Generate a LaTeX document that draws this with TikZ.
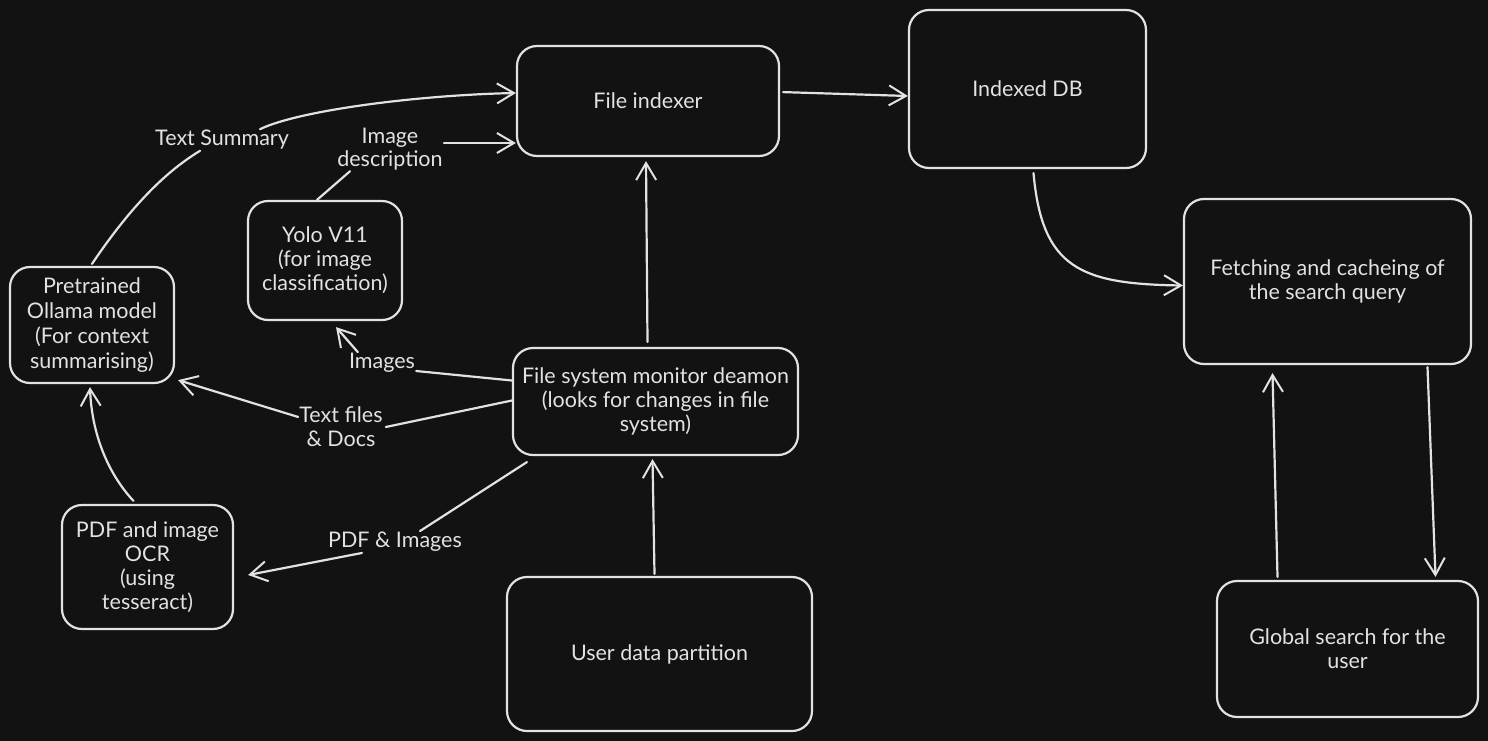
\documentclass[tikz,border=0pt]{standalone}
\usepackage{fontspec}
\setmainfont{Lato}
\usetikzlibrary{arrows.meta}
\definecolor{bg}{HTML}{121212}
\definecolor{fg}{HTML}{E2E2E2}
\begin{document}
\begin{tikzpicture}[x=1pt,y=-1pt,
  every node/.style={font=\fontsize{21.5}{24}\selectfont, text=fg},
  box/.style={draw=fg, line width=2.2pt, rounded corners=20pt, align=center, inner sep=3pt},
  lbl/.style={align=center, inner sep=1pt},
  conn/.style={draw=fg, line width=2.2pt, line cap=round},
  arr/.style={conn, -{Straight Barb[length=17pt,width=20pt,line width=2pt]}}
]
\fill[bg] (0,0) rectangle (1488,741);
\useasboundingbox (0,0) rectangle (1488,741);

% boxes
\node[box, minimum width=262pt, minimum height=110pt] (fi) at (648,101) {File indexer};
\node[box, minimum width=237pt, minimum height=158pt] (db) at (1027.5,89) {Indexed DB};
\node[box, minimum width=287pt, minimum height=165pt] (fetch) at (1327.5,281.5) {Fetching and cacheing of\\the search query};
\node[box, minimum width=261pt, minimum height=136pt] (glob) at (1347.5,649) {Global search for the\\user};
\node[box, minimum width=305pt, minimum height=154pt] (user) at (659.5,654) {User data partition};
\node[box, minimum width=285pt, minimum height=107pt] (fs) at (655.5,401.5) {File system monitor deamon\\(looks for changes in file\\system)};
\node[box, minimum width=164pt, minimum height=116pt, font=\fontsize{21.5}{25}\selectfont] (oll) at (92,325) {Pretrained\\Ollama model\\(For context\\summarising)};
\node[box, minimum width=154pt, minimum height=119pt] (yolo) at (325,260.5) {Yolo V11\\(for image\\classification)};
\node[box, minimum width=171pt, minimum height=124pt] (ocr) at (147.5,567) {PDF and image\\OCR\\(using\\tesseract)};

% labels
\node[lbl] (tsum) at (222,140) {Text Summary};
\node[lbl, font=\fontsize{21.5}{23}\selectfont] (idesc) at (390,149) {Image\\description};
\node[lbl] (img) at (382,363) {Images};
\node[lbl] (txt) at (341,427) {Text files\\\& Docs};
\node[lbl] (pdfl) at (395,542) {PDF \& Images};

% connectors
\draw[arr, shorten <=3pt] ([yshift=9pt]fi.east) -- ([yshift=-7pt]db.west);
\draw[arr] ([xshift=6pt, yshift=-4pt]db.south) .. controls (1042,268) and (1080,284) .. ([yshift=-4pt]fetch.west);
\draw[arr] ([xshift=100pt, yshift=-2pt]fetch.south) -- ([xshift=88pt, yshift=3pt]glob.north);
\draw[arr] ([xshift=-70pt, yshift=3pt]glob.north) -- ([xshift=-55pt, yshift=-8pt]fetch.south);
\draw[arr] ([xshift=-5pt, yshift=2pt]user.north) -- ([xshift=-3pt, yshift=-3pt]fs.south);
\draw[arr] ([xshift=-8pt, yshift=5pt]fs.north) -- ([xshift=-2pt, yshift=-4pt]fi.south);

\draw[conn] ([yshift=21pt]fs.west) -- ([yshift=-8pt]img.east);
\draw[arr] ([xshift=10pt]img.north west) -- ([xshift=11pt, yshift=-6pt]yolo.south);

\draw[conn] ([yshift=1pt]fs.west) -- ([xshift=2pt]txt.east);
\draw[arr] ([yshift=10pt]txt.west) -- ([shift={(3pt,4pt)}]oll.south east);

\draw[conn] ([xshift=15pt, yshift=-6pt]fs.south west) -- ([xshift=25pt]pdfl.north);
\draw[arr] ([xshift=35pt]pdfl.south west) -- ([shift={(14pt,-8pt)}]ocr.east);

\draw[arr] ([xshift=-14pt, yshift=3pt]ocr.north) .. controls (112,478) and (92,440) .. ([xshift=-2pt, yshift=-3pt]oll.south);

\draw[conn] ([yshift=2pt]oll.north) .. controls (125,215) and (160,175) .. ([xshift=-22pt]tsum.south);
\draw[arr] ([xshift=38pt]tsum.north) .. controls (300,110) and (420,95) .. ([yshift=8pt]fi.west);

\draw[conn] ([xshift=-8pt]yolo.north) -- ([xshift=-40pt]idesc.south);
\draw[arr] ([yshift=6pt]idesc.east) -- ([yshift=-42pt]fi.west);
\end{tikzpicture}
\end{document}
